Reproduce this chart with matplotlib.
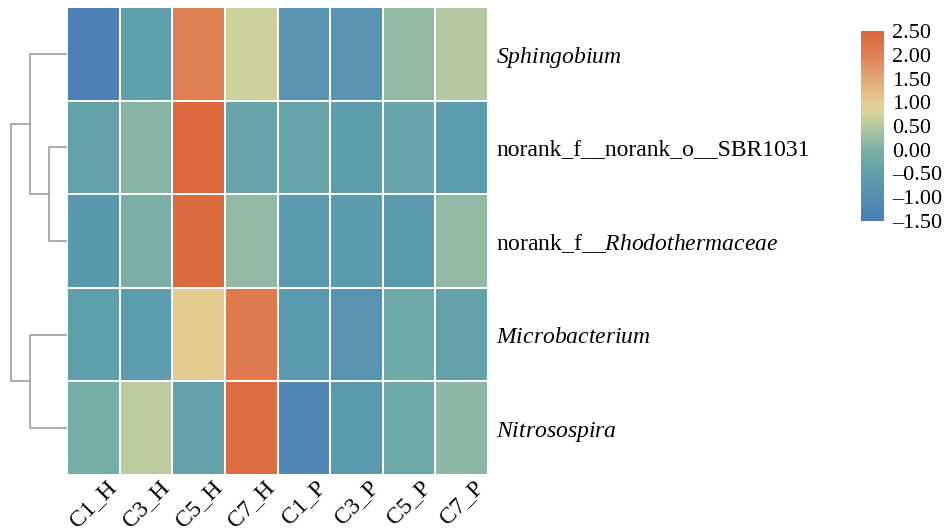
import numpy as np
import matplotlib
matplotlib.use("Agg")
import matplotlib.pyplot as plt
from matplotlib.colors import LinearSegmentedColormap, Normalize

plt.rcParams["font.family"] = ["Liberation Serif", "DejaVu Serif"]
plt.rcParams["mathtext.fontset"] = "custom"
plt.rcParams["mathtext.rm"] = "Liberation Serif"
plt.rcParams["mathtext.it"] = "Liberation Serif:italic"

samples = ["C1_H", "C3_H", "C5_H", "C7_H", "C1_P", "C3_P", "C5_P", "C7_P"]
taxa = ["Sphingobium", "norank_f__norank_o__SBR1031", "norank_f__Rhodothermaceae",
        "Microbacterium", "Nitrosospira"]
taxa_labels = [r"$\it{Sphingobium}$", "norank_f__norank_o__SBR1031",
               r"norank_f__$\it{Rhodothermaceae}$", r"$\it{Microbacterium}$",
               r"$\it{Nitrosospira}$"]

sphingobium = [-1.4, -0.5, 2.0, 0.7, -0.85, -0.85, 0.2, 0.5]
sbr1031 = [-0.4, 0.1, 2.45, -0.3, -0.35, -0.55, -0.3, -0.6]
rhodothermaceae = [-0.75, 0.0, 2.4, 0.2, -0.7, -0.65, -0.65, 0.2]
microbacterium = [-0.5, -0.6, 1.0, 2.1, -0.7, -0.85, -0.2, -0.4]
nitrosospira = [-0.1, 0.55, -0.4, 2.35, -1.2, -0.7, -0.25, 0.15]

# row-cluster merge heights
merge_23 = 1.0
merge_1_23 = 2.04
merge_45 = 2.04
merge_root = 3.09

values = np.array([sphingobium, sbr1031, rhodothermaceae, microbacterium, nitrosospira])

vmin, vmax = -1.5, 2.5
stops = [(-1.5, "#4a7cb8"), (-1.0, "#5590b2"), (-0.5, "#5f9fab"), (0.0, "#7aafa6"),
         (0.5, "#b4c9a0"), (0.75, "#d4d49b"), (1.0, "#e5cc92"), (1.5, "#e3a676"),
         (2.0, "#df7f52"), (2.5, "#d9663a")]
cmap = LinearSegmentedColormap.from_list(
    "heat", [((v - vmin) / (vmax - vmin), c) for v, c in stops])
norm = Normalize(vmin, vmax)

fig = plt.figure(figsize=(9.49, 5.31), dpi=100)
W, H = 949, 531

def box(x0, y0, x1, y1):
    return [x0 / W, 1 - y1 / H, (x1 - x0) / W, (y1 - y0) / H]

ax = fig.add_axes(box(67, 7, 488, 475))
ax.pcolormesh(values, cmap=cmap, norm=norm, edgecolors="white", linewidth=1.3)
ax.set_xlim(0, len(samples))
ax.set_ylim(len(taxa), 0)
for s in ax.spines.values():
    s.set_visible(False)
ax.set_xticks(np.arange(len(samples)) + 0.5)
ax.set_xticklabels(samples, rotation=45, ha="center", va="top", fontsize=17)
ax.yaxis.tick_right()
ax.set_yticks(np.arange(len(taxa)) + 0.5)
ax.set_yticklabels(taxa_labels, fontsize=17)
ax.tick_params(length=0, pad=6)
ax.tick_params(axis="x", pad=1)

# dendrogram on the left
dax = fig.add_axes(box(0, 7, 67, 475))
dax.set_xlim(3.7, 0)
dax.set_ylim(len(taxa), 0)
dax.axis("off")
lc = dict(color="#a39c9c", lw=1.2)
y = np.arange(len(taxa)) + 0.5

def link(ya, ha, yb, hb, h):
    dax.plot([ha, h, h, hb], [ya, ya, yb, yb], **lc)

link(y[1], 0, y[2], 0, merge_23)
y23 = (y[1] + y[2]) / 2
link(y[0], 0, y23, merge_23, merge_1_23)
y123 = (y[0] + y23) / 2
link(y[3], 0, y[4], 0, merge_45)
y45 = (y[3] + y[4]) / 2
link(y123, merge_1_23, y45, merge_45, merge_root)

# colour bar
cax = fig.add_axes(box(861, 31, 884, 221))
cb = fig.colorbar(plt.cm.ScalarMappable(norm=norm, cmap=cmap), cax=cax)
ticks = np.arange(-1.5, 2.51, 0.5)
cb.set_ticks(ticks)
cb.set_ticklabels([f"{t:.2f}".replace("-", "\u2013") for t in ticks])
cb.outline.set_visible(False)
cax.tick_params(length=0, labelsize=16, pad=6)

fig.savefig("out.png", dpi=100)
